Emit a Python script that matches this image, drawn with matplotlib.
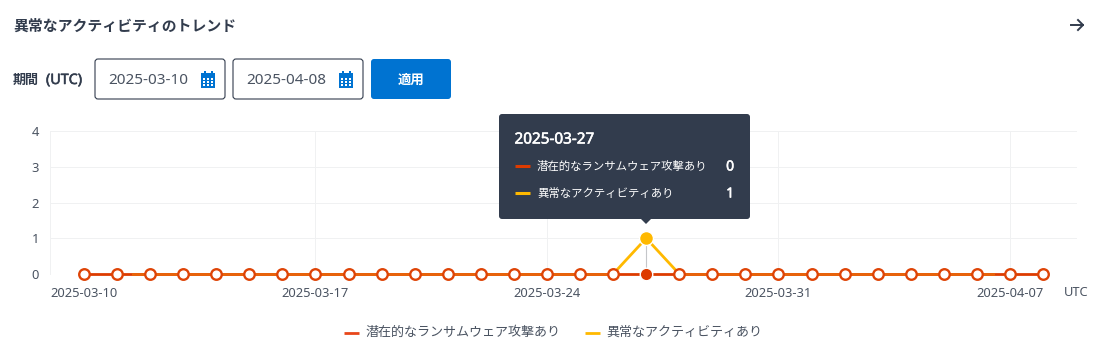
import matplotlib
matplotlib.use('Agg')
import matplotlib.pyplot as plt
import matplotlib.patheffects as pe
from matplotlib.patches import FancyBboxPatch, Rectangle, Polygon
import pandas as pd

plt.rcParams['font.family'] = ['Noto Sans', 'Noto Sans CJK JP', 'DejaVu Sans']

# データ
dates = pd.date_range('2025-03-10', '2025-04-08', freq='D')
ransomware = [0] * 30
anomaly = [0, 0, 0, 0, 0, 0, 0, 0, 0, 0,
           0, 0, 0, 0, 0, 0, 0, 1, 0, 0,
           0, 0, 0, 0, 0, 0, 0, 0, 0, 0]
y_ticks = [0, 1, 2, 3, 4]
x_ticks = ['2025-03-10', '2025-03-17', '2025-03-24', '2025-03-31', '2025-04-07']
series_names = ['潜在的なランサムウェア攻撃あり', '異常なアクティビティあり']
hover_date = '2025-03-27'

RED = '#dd3b00'
YELLOW = '#ffb900'
MIX = '#e8640a'
DARK = '#323c4d'
GRAY = '#4a5361'
BLUE = '#0073d1'

W, H = 1117, 357
fig = plt.figure(figsize=(W / 100, H / 100), dpi=100)

# チャート本体 (px で位置合わせ)
left, right, top, bottom = 50, 1077, 131, 274
ax = fig.add_axes([left / W, 1 - bottom / H, (right - left) / W, (bottom - top) / H])
x = list(range(len(dates)))
step = 33.07
ax.set_xlim((left - 84) / step, (right - 84) / step)
ax.set_ylim(0, 4)
for s in ax.spines.values():
    s.set_visible(False)
ax.spines['left'].set_visible(True)
ax.spines['left'].set_color('#f0f1f2')
ax.spines['left'].set_linewidth(0.72)
ax.set_yticks(y_ticks)
tick_pos = [list(dates.strftime('%Y-%m-%d')).index(t) for t in x_ticks]
ax.set_xticks(tick_pos)
ax.set_xticklabels(x_ticks)
ax.tick_params(length=0, labelsize=9.3, labelcolor=GRAY)
ax.tick_params(axis='x', pad=9.5)
ax.tick_params(axis='y', pad=8)
ax.grid(axis='y', color='#f0f1f2', lw=0.72)
for p in tick_pos[1:]:
    ax.axvline(p, color='#f0f1f2', lw=0.72, zorder=0)

hi = list(dates.strftime('%Y-%m-%d')).index(hover_date)
ax.plot([hi, hi], [0, 1.2], color='#c4c6c9', lw=0.8, zorder=1, clip_on=False)
ax.plot(x, ransomware, color=RED, lw=2, zorder=2, clip_on=False)
# 両端を除いて黄色が重なって見える区間
for seg_x, seg_y in [(x[:hi], anomaly[:hi]), (x[hi + 1:], anomaly[hi + 1:])]:
    seg, = ax.plot(seg_x, seg_y, color=MIX, lw=2, zorder=3)
    seg.set_clip_path(Rectangle((1.45, -1), 26.1, 3, transform=ax.transData))
ax.plot(x[hi - 1:hi + 2], anomaly[hi - 1:hi + 2], color=YELLOW, lw=2, zorder=3, clip_on=False)
others = [i for i in x if i != hi]
ax.plot(others, [ransomware[i] for i in others], ls='none', marker='o', ms=7.6, mfc='white',
        mec='#de4407', mew=1.7, zorder=5, clip_on=False)
ax.plot([hi], [ransomware[hi]], ls='none', marker='o', ms=9, mfc=RED, mec='white', mew=1, zorder=5, clip_on=False)
ax.plot([hi], [anomaly[hi]], ls='none', marker='o', ms=10, mfc=YELLOW, mec='white', mew=1, zorder=5, clip_on=False)

# 画面部品はピクセル座標のオーバーレイに描く
ui = fig.add_axes([0, 0, 1, 1])
ui.set_xlim(0, W)
ui.set_ylim(H, 0)
ui.axis('off')
ui.patch.set_alpha(0)

# Noto Sans に太字がないので輪郭で太らせる
def heavy(color):
    return [pe.withStroke(linewidth=0.4, foreground=color)]


ui.text(13, 27.5, '異常なアクティビティのトレンド', fontsize=10.7, fontweight='bold', color=DARK, va='center')
ui.plot([1071, 1083], [25, 25], color=DARK, lw=1.4)
ui.plot([1078, 1083, 1078], [20, 25, 30], color=DARK, lw=1.4)

ui.text(13, 80.5, '期間', fontsize=9.4, fontweight='bold', color=DARK, va='center')
ui.text(46, 80.5, '(UTC)', fontsize=10.3, color=DARK, va='center', path_effects=heavy(DARK))


def date_box(x0, w, label):
    ui.add_patch(FancyBboxPatch((x0 + 3, 62), w - 6, 34, boxstyle='round,pad=3,rounding_size=3',
                                fc='white', ec=DARK, lw=0.8))
    ui.text(x0 + 13, 81, label, fontsize=11, color=GRAY, va='center')
    ix = x0 + 106
    ui.add_patch(Rectangle((ix, 74), 14, 14, fc=BLUE, ec='none'))
    ui.add_patch(Rectangle((ix - 0, 72.5), 14, 4, fc=BLUE, ec='none'))
    for kx in (3, 10):
        ui.add_patch(Rectangle((ix + kx, 71), 1.6, 3, fc=BLUE, ec='none'))
    for r in range(3):
        for c in range(3):
            ui.add_patch(Rectangle((ix + 1.6 + c * 4, 78 + r * 3.2), 2.4, 1.8, fc='white', ec='none'))


date_box(95, 130, '2025-03-10')
date_box(233, 130, '2025-04-08')
ui.add_patch(FancyBboxPatch((374, 62), 74, 34, boxstyle='round,pad=3,rounding_size=3', fc=BLUE, ec='none'))
ui.text(411, 80, '適用', fontsize=9.6, fontweight='bold', color='white', va='center', ha='center')

# ツールチップ
ui.add_patch(FancyBboxPatch((502, 117), 245, 99, boxstyle='round,pad=3,rounding_size=3', fc=DARK, ec='none', zorder=6))
ui.add_patch(Polygon([[641, 219], [651, 219], [646, 224]], fc=DARK, ec='none', zorder=6))
ui.text(514.5, 140, hover_date, fontsize=11, color='white', va='center', zorder=7, path_effects=heavy('white'))
for yy, name, col, val in [(166, series_names[0], RED, ransomware[hi]), (193, series_names[1], YELLOW, anomaly[hi])]:
    ui.plot([515, 530], [yy, yy], color=col, lw=2.2, zorder=7, solid_capstyle='butt')
    ui.text(537, yy + 1.5, name, fontsize=8.2, color='white', va='center', zorder=7)
    ui.text(734, yy + 1, str(val), fontsize=10, color='white', va='center', ha='right', zorder=7,
            path_effects=heavy('white'))

ui.text(1064, 292, 'UTC', fontsize=9.3, color=GRAY, va='center')

# 凡例
for lx, tx, name, col in [(344, 365, series_names[0], '#e8461a'), (585, 606, series_names[1], YELLOW)]:
    ui.plot([lx, lx + 15], [333, 333], color=col, lw=2, solid_capstyle='butt')
    ui.text(tx, 332.5, name, fontsize=9.4, color=GRAY, va='center')

fig.savefig('out.png', dpi=100)
